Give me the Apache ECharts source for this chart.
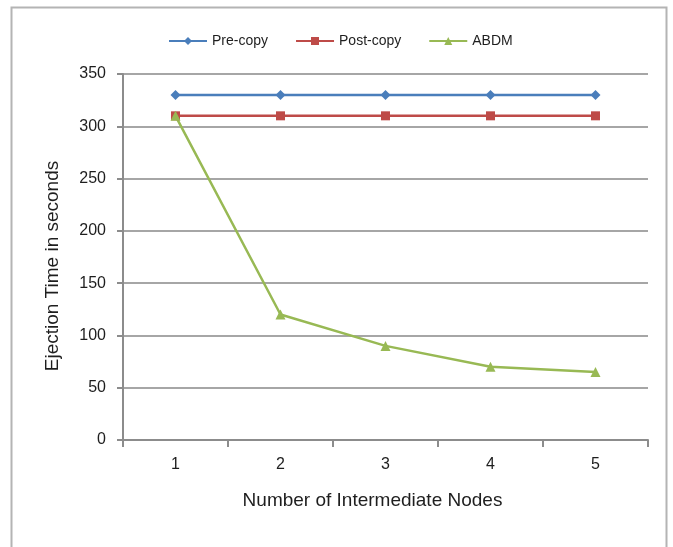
<!DOCTYPE html>
<html>
<head>
<meta charset="utf-8">
<script src="https://cdn.jsdelivr.net/npm/echarts@6/dist/echarts.min.js"></script>
<style>
  html, body { margin: 0; padding: 0; background: #fff; }
  #chart { width: 673px; height: 547px; }
</style>
</head>
<body>
<div id="chart"></div>
<script>
// Number of intermediate nodes on the x axis
const categories = ['1', '2', '3', '4', '5'];
// Ejection time (seconds) per migration strategy
const preCopy = [330, 330, 330, 330, 330];
const postCopy = [310, 310, 310, 310, 310];
const abdm = [310, 120, 90, 70, 65];
const yTicks = { min: 0, max: 350, interval: 50 };

const FONT = 'Liberation Sans';
const TEXT = '#1e1e1e';
const chart = echarts.init(document.getElementById('chart'), null, { renderer: 'canvas' });

chart.setOption({
  backgroundColor: '#ffffff',
  animation: false,
  textStyle: { fontFamily: FONT },
  graphic: [
    {
      type: 'rect',
      shape: { x: 11.5, y: 7.5, width: 655, height: 560 },
      style: { fill: 'none', stroke: '#b4b4b4', lineWidth: 2 },
      silent: true
    }
  ],
  legend: {
    top: 29,
    left: 163,
    itemWidth: 38,
    itemHeight: 10,
    itemGap: 27,
    textStyle: { fontFamily: FONT, fontSize: 14, color: TEXT },
    data: ['Pre-copy', 'Post-copy', 'ABDM']
  },
  grid: { left: 123, right: 25, top: 74, bottom: 107 },
  xAxis: {
    type: 'category',
    data: categories,
    boundaryGap: true,
    name: 'Number of Intermediate Nodes',
    nameLocation: 'middle',
    nameGap: 51,
    nameTextStyle: { fontFamily: FONT, fontSize: 19, color: TEXT, padding: [0, 26, 0, 0] },
    axisLine: { lineStyle: { color: '#8c8c8c', width: 2 } },
    axisTick: { show: true, length: 7, lineStyle: { color: '#8c8c8c', width: 2 } },
    axisLabel: { fontFamily: FONT, fontSize: 16, color: TEXT, margin: 17 },
    splitLine: { show: false }
  },
  yAxis: {
    type: 'value',
    min: yTicks.min,
    max: yTicks.max,
    interval: yTicks.interval,
    name: 'Ejection Time in seconds',
    nameLocation: 'middle',
    nameRotate: 90,
    nameGap: 61,
    nameTextStyle: { fontFamily: FONT, fontSize: 19, color: TEXT, padding: [0, 18, 0, 0] },
    axisLine: { show: true, lineStyle: { color: '#8c8c8c', width: 2 } },
    axisTick: { show: true, length: 6, lineStyle: { color: '#8c8c8c', width: 2 } },
    axisLabel: { fontFamily: FONT, fontSize: 16, color: TEXT, margin: 17 },
    splitLine: { show: true, lineStyle: { color: '#a6a6a6', width: 2 } }
  },
  series: [
    {
      name: 'Pre-copy',
      type: 'line',
      data: preCopy,
      symbol: 'diamond',
      symbolSize: 10,
      color: '#4a7ebb',
      lineStyle: { width: 2.5 },
      itemStyle: { color: '#4a7ebb' }
    },
    {
      name: 'Post-copy',
      type: 'line',
      data: postCopy,
      symbol: 'rect',
      symbolSize: 9,
      color: '#be4b48',
      lineStyle: { width: 2.5 },
      itemStyle: { color: '#be4b48' }
    },
    {
      name: 'ABDM',
      type: 'line',
      data: abdm,
      symbol: 'triangle',
      symbolSize: 10,
      color: '#98b954',
      lineStyle: { width: 2.5 },
      itemStyle: { color: '#98b954' }
    }
  ]
});
</script>
</body>
</html>
